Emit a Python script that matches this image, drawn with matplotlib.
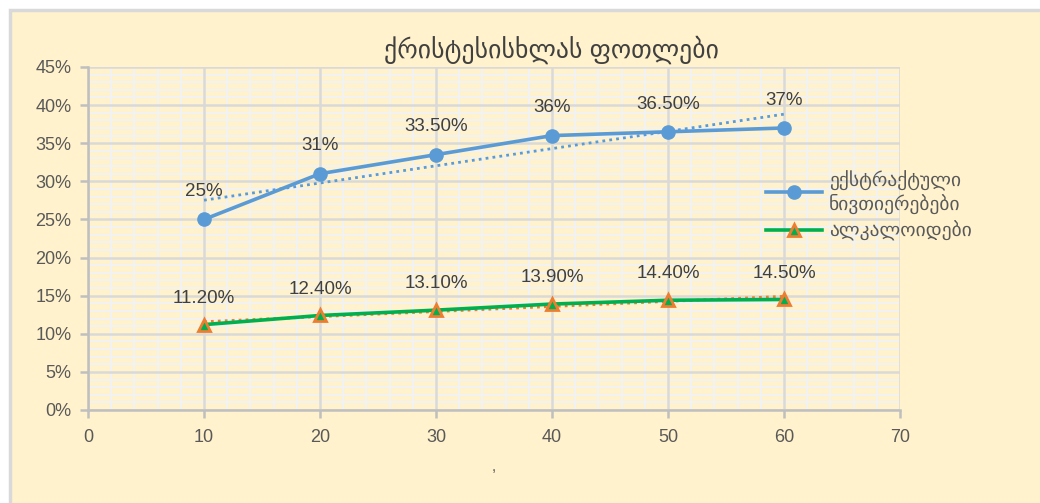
import numpy as np
import matplotlib
matplotlib.use("Agg")
import matplotlib.pyplot as plt
from matplotlib.patches import Rectangle
from matplotlib.ticker import MultipleLocator, PercentFormatter

plt.rcParams['font.family'] = ['Liberation Sans', 'DejaVu Sans']

days = [10, 20, 30, 40, 50, 60]
extractives = [25, 31, 33.5, 36, 36.5, 37]
alkaloids = [11.2, 12.4, 13.1, 13.9, 14.4, 14.5]
extract_labels = ['25%', '31%', '33.50%', '36%', '36.50%', '37%']
alkaloid_labels = ['11.20%', '12.40%', '13.10%', '13.90%', '14.40%', '14.50%']

title = 'ქრისტესისხლას ფოთლები'
name_extract = 'ექსტრაქტული\nნივთიერებები'
name_alkaloid = 'ალკალოიდები'

blue = '#5B9BD5'
orange = '#ED7D31'
green = '#00B050'
text_col = '#595959'

fig = plt.figure(figsize=(10.4, 5.03), dpi=100)
fig.patch.set_facecolor('white')

# yellow chart area with grey border
fig.patches.append(Rectangle((10 / 1040, -0.05), 1.1, 1 - 10 / 503 + 0.05,
                             transform=fig.transFigure, facecolor='#FFF2CC',
                             edgecolor='#D9D9D9', linewidth=2.5, zorder=-10))

ax = fig.add_axes([88 / 1040, 93 / 503, 812 / 1040, 343 / 503])
ax.set_zorder(1)
ax.set_facecolor('none')

ax.set_xlim(0, 70)
ax.set_ylim(0, 45)
ax.xaxis.set_major_locator(MultipleLocator(10))
ax.xaxis.set_minor_locator(MultipleLocator(2))
ax.yaxis.set_major_locator(MultipleLocator(5))
ax.yaxis.set_minor_locator(MultipleLocator(1))
ax.yaxis.set_major_formatter(PercentFormatter(decimals=0))

# light minor grid, then darker major grid on top of it
ax.set_axisbelow(True)
ax.grid(which='minor', color='#F2F2F2', linewidth=1.5)
for xv in ax.get_xticks():
    ax.axvline(xv, color='#D9D9D9', linewidth=1.8, zorder=0.6)
for yv in ax.get_yticks():
    ax.axhline(yv, color='#D9D9D9', linewidth=1.8, zorder=0.6)

for s in ['top', 'right']:
    ax.spines[s].set_visible(False)
for s in ['left', 'bottom']:
    ax.spines[s].set_color('#BFBFBF')
    ax.spines[s].set_linewidth(1.8)

ax.tick_params(which='major', length=6, width=1.8, color='#BFBFBF',
               labelcolor=text_col, labelsize=13)
ax.tick_params(which='minor', length=0)
ax.tick_params(axis='x', pad=8)
ax.tick_params(axis='y', pad=6)

# trendlines (linear, as in the original chart)
x = np.array(days)
for vals, col in [(extractives, blue), (alkaloids, orange)]:
    k, b = np.polyfit(x, vals, 1)
    ax.plot(x, k * x + b, color=col, linestyle=(0, (1, 1.5)), linewidth=2, zorder=3)

ax.plot(days, extractives, color=blue, linewidth=2.6, marker='o', markersize=9.5,
        label=name_extract, zorder=4)
ax.plot(days, alkaloids, color=green, linewidth=2.6, marker='^', markersize=9,
        markerfacecolor=green, markeredgecolor=orange, markeredgewidth=2,
        label=name_alkaloid, zorder=4)

for xi, yi, lab in zip(days, extractives, extract_labels):
    ax.annotate(lab, (xi, yi), xytext=(0, 20), textcoords='offset points',
                ha='center', va='center', fontsize=13.5, color='#404040')
for xi, yi, lab in zip(days, alkaloids, alkaloid_labels):
    ax.annotate(lab, (xi, yi), xytext=(0, 19), textcoords='offset points',
                ha='center', va='center', fontsize=13.5, color='#404040')

ax.set_xlabel(',', color=text_col, fontsize=11, labelpad=10)

fig.text(552 / 1040, 1 - 50 / 503, title, ha='center', va='center',
         fontsize=18.5, color='#404040')

ax.legend(loc='center left', bbox_to_anchor=(748 / 1040, 1 - 206 / 503),
          bbox_transform=fig.transFigure, frameon=False, fontsize=14,
          labelcolor=text_col, handlelength=2.9, handletextpad=0.35,
          labelspacing=0.35)

fig.savefig('out.png', dpi=100)
